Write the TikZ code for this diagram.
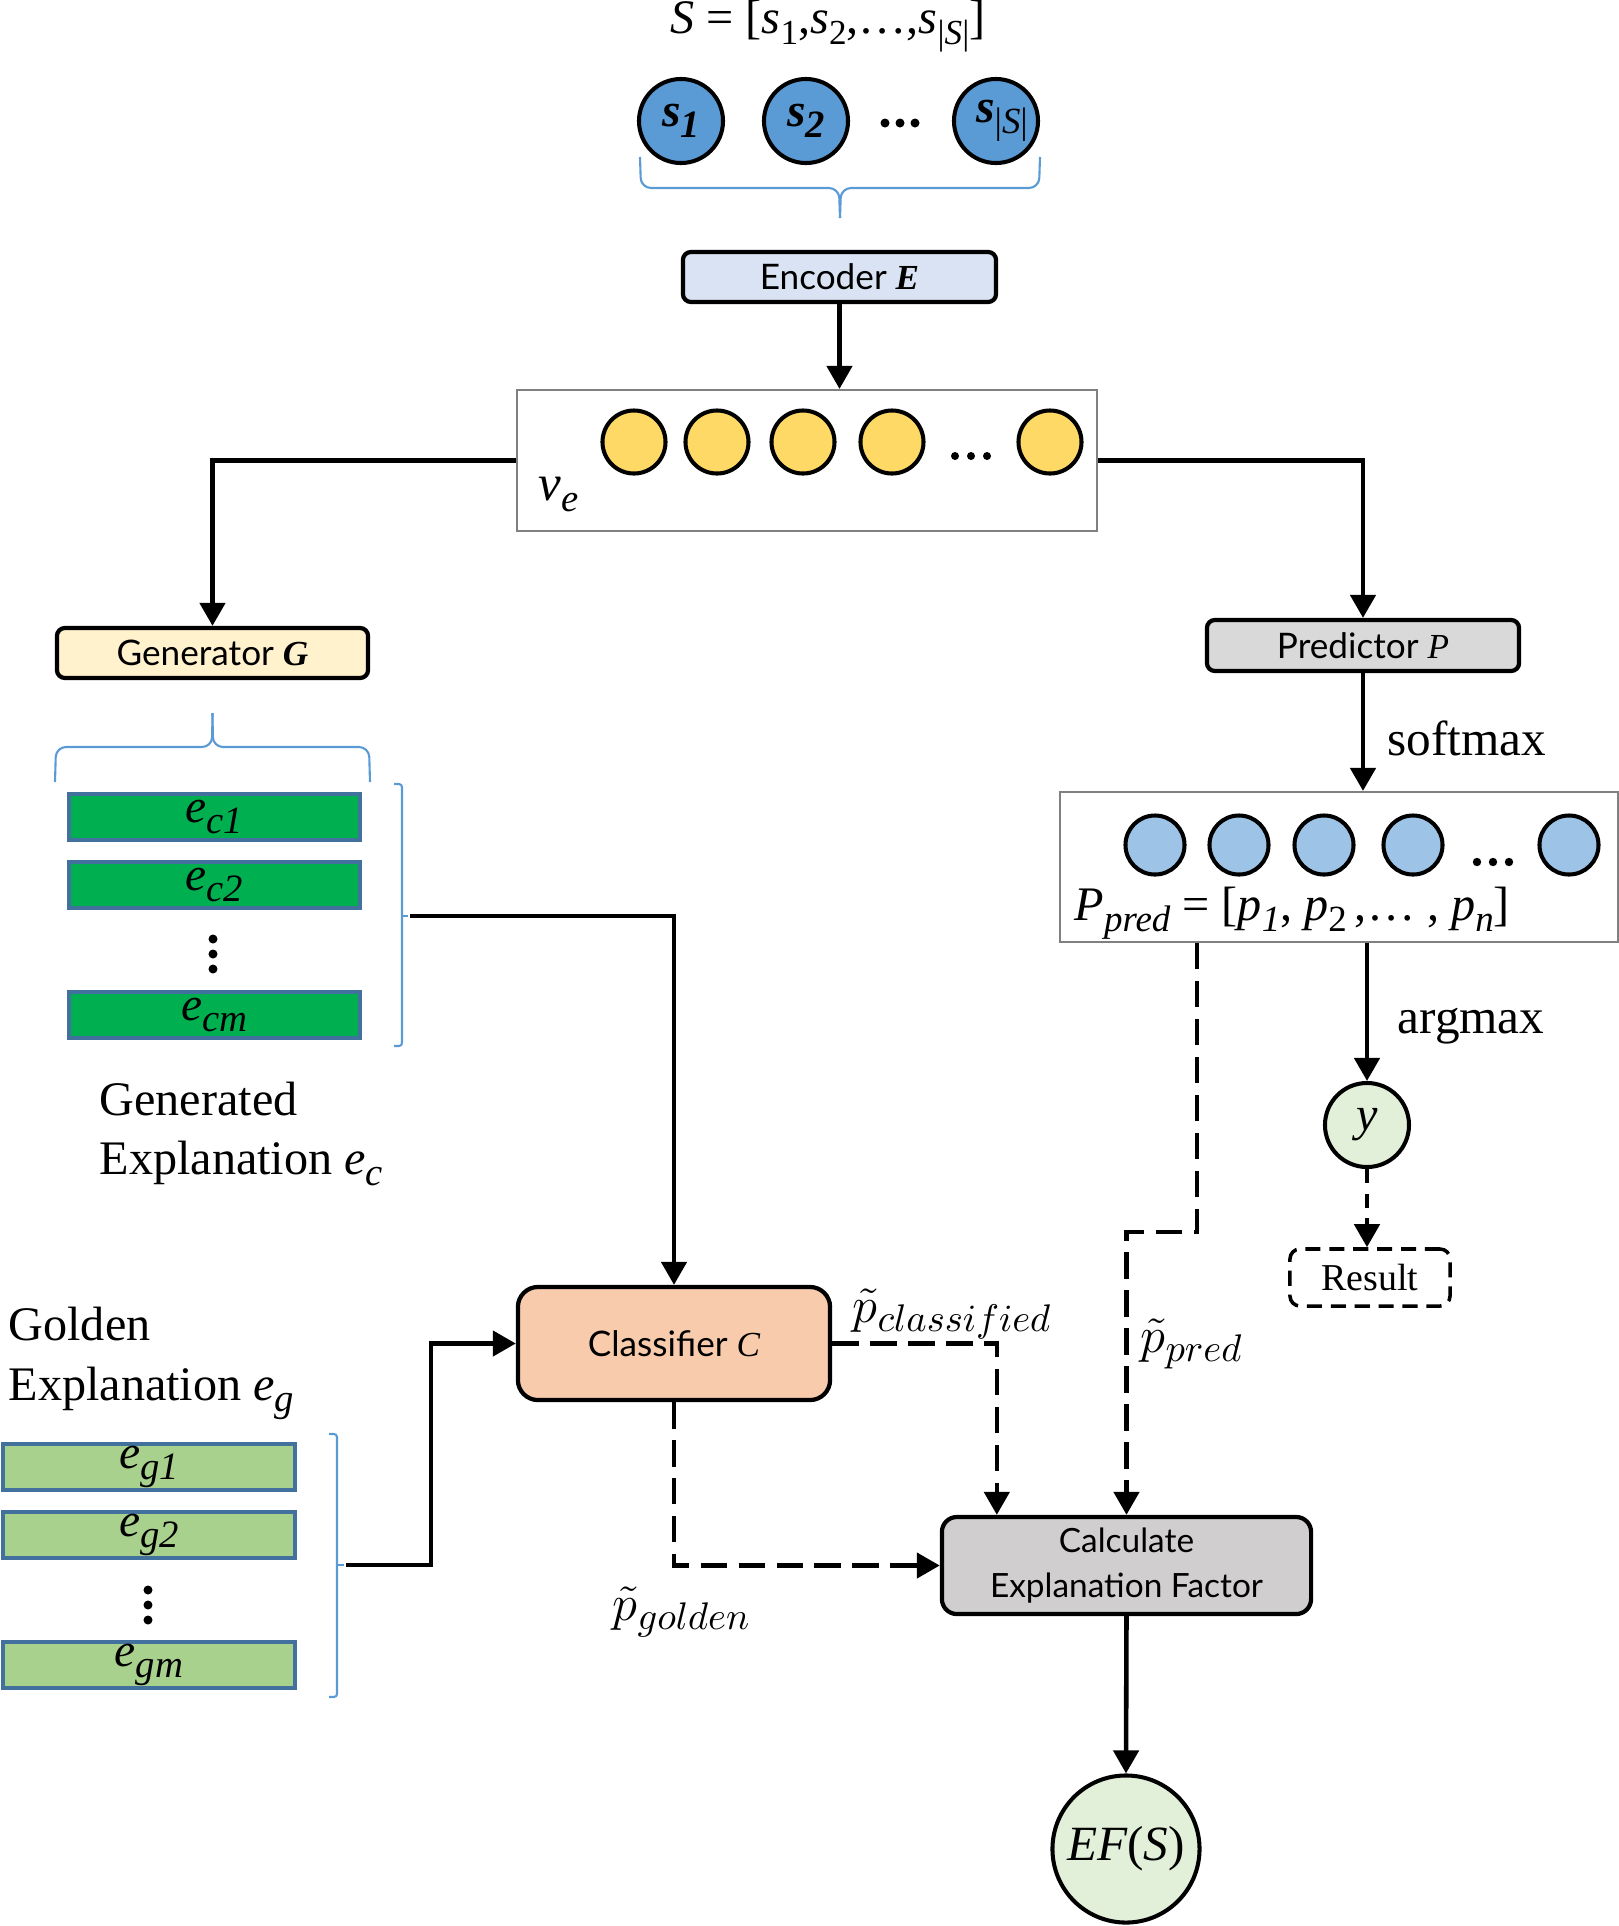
\documentclass[tikz,border=0pt]{standalone}
\usepackage{fontspec}
\setmainfont{Liberation Serif}
\newfontfamily\labfont{Lato}
\usetikzlibrary{arrows.meta,calc}
\definecolor{sblue}{HTML}{5B9BD5}
\definecolor{brcol}{HTML}{5B9BD5}
\definecolor{encf}{HTML}{DAE3F3}
\definecolor{yel}{HTML}{FFD966}
\definecolor{genf}{HTML}{FFF2CC}
\definecolor{ecg}{HTML}{00B050}
\definecolor{egg}{HTML}{A9D18E}
\definecolor{bord}{HTML}{41719C}
\definecolor{clsf}{HTML}{F8CBAD}
\definecolor{predf}{HTML}{D9D9D9}
\definecolor{pblue}{HTML}{9DC3E6}
\definecolor{lgreen}{HTML}{E2F0D9}
\definecolor{calcf}{HTML}{D0CECE}
\definecolor{boxgray}{HTML}{808080}
\newcommand\fsz[2]{\fontsize{#1pt}{#2pt}\selectfont}
\newcommand\lsub[2]{\raisebox{-0.5ex}{\fsz{#1}{#1}#2}}
\newcommand\mi[1]{{\rmfamily\itshape #1}}
\newcommand\mbi[1]{{\rmfamily\itshape\bfseries #1}}
\tikzset{
  blk/.style={draw=black, line width=1.2pt, rounded corners=0.08cm, inner sep=0pt, font=\labfont\fsz{10}{12}},
  arr/.style={draw=black, line width=1.3pt, -{Triangle[length=0.23cm,width=0.25cm]}},
  darr/.style={arr, dash pattern=on 7.5pt off 3.3pt},
  brc/.style={draw=brcol, line width=0.6pt, rounded corners=0.1cm},
  scirc/.style={circle, draw=black, line width=1.15pt, fill=sblue, minimum size=0.84cm, inner sep=0pt, font=\fsz{13.5}{16}},
  ycirc/.style={circle, draw=black, line width=1.15pt, fill=yel, minimum size=0.63cm, inner sep=0pt},
  pcirc/.style={circle, draw=black, line width=1.15pt, fill=pblue, minimum size=0.59cm, inner sep=0pt},
  ebox/.style={rectangle, draw=bord, line width=1.1pt, minimum width=2.91cm, minimum height=0.46cm, inner sep=0pt, font=\fsz{13.5}{15}},
  outbox/.style={rectangle, draw=boxgray, line width=0.6pt, inner sep=0pt},
  lbl/.style={inner sep=0pt, font=\fsz{13.7}{16}},
}
\begin{document}
\begin{tikzpicture}[x=0.01cm,y=-0.01cm]
\useasboundingbox (0,0) rectangle (1619,1926);

% top formula and inputs
\node[font=\fsz{13.7}{16}, inner sep=0pt, anchor=base] (sform) at (828,33) {\mi{S} = [\mi{s}\lsub{10}{1},\mi{s}\lsub{10}{2},\textellipsis,\mi{s}\lsub{10}{|\mi{S}|}]};
\node[scirc] (s1) at (681,121) {\mbi{s}\lsub{11}{\mbi{1}}};
\node[scirc] (s2) at (806,121) {\mbi{s}\lsub{11}{\mbi{2}}};
\node[scirc] (sn) at (996,121) {\hspace{0.12cm}\mbi{s}\lsub{10.5}{|\mi{S}|}};
\foreach \x in {885,900,915} \fill (\x,123) circle[radius=0.045cm];
\draw[brc] (640,157) -- (641,188) -- (839,188) -- (840,218);
\draw[brc] (1040,157) -- (1039,188) -- (841,188) -- (840,218);

% encoder
\node[blk, fill=encf, minimum width=3.13cm, minimum height=0.50cm] (enc) at (839.5,277) {Encoder \mbi{E}};

% ve box
\node[outbox, minimum width=5.80cm, minimum height=1.41cm] (ve) at (807,460.5) {};
\node[ycirc] (y1) at (634,442) {};
\node[ycirc] (y2) at (717,442) {};
\node[ycirc] (y3) at (803,442) {};
\node[ycirc] (y4) at (892,442) {};
\node[ycirc] (y5) at (1050,442) {};
\foreach \x in {955,971,987} \fill (\x,456) circle[radius=0.04cm];
\node[font=\fsz{14.5}{16}, inner sep=0pt, anchor=base west] (velab) at (538,500) {\mi{v}\lsub{11}{\mi{e}}};

% generator
\node[blk, fill=genf, minimum width=3.11cm, minimum height=0.50cm] (gen) at (212.5,653) {Generator \mbi{G}};
\draw[brc] (55,782) -- (56,747) -- (212,747) -- (212.5,713);
\draw[brc] (370,782) -- (369,747) -- (213,747) -- (212.5,713);

\node[ebox, fill=ecg] (ec1) at (214.5,817) {\mi{e}\lsub{11}{\mi{c1}}};
\node[ebox, fill=ecg] (ec2) at (214.5,885) {\mi{e}\lsub{11}{\mi{c2}}};
\node[ebox, fill=ecg] (ecm) at (214.5,1015) {\mi{e}\lsub{11}{\mi{cm}}};
\foreach \y in {939,954,969} \fill (213,\y) circle[radius=0.045cm];
\draw[brc, rounded corners=0.03cm] (394,784) -- (402,784) -- (402,1046) -- (394,1046);
\draw[brc] (402,916) -- (408,916);
\coordinate (ecb) at (410,916);

\node[lbl, anchor=base west] (gen1) at (99,1115) {Generated};
\node[lbl, anchor=base west] (gen2) at (99,1174) {Explanation \mi{e}\lsub{11}{\mi{c}}};

% golden
\node[lbl, anchor=base west] (gold1) at (8,1340) {Golden};
\node[lbl, anchor=base west] (gold2) at (8,1400) {Explanation \mi{e}\lsub{11}{\mi{g}}};
\node[ebox, fill=egg] (eg1) at (149,1467) {\mi{e}\lsub{11}{\mi{g1}}};
\node[ebox, fill=egg] (eg2) at (149,1535) {\mi{e}\lsub{11}{\mi{g2}}};
\node[ebox, fill=egg] (egm) at (149,1665) {\mi{e}\lsub{11}{\mi{gm}}};
\foreach \y in {1590,1605,1620} \fill (148,\y) circle[radius=0.045cm];
\draw[brc, rounded corners=0.03cm] (329,1434) -- (337,1434) -- (337,1697) -- (329,1697);
\draw[brc] (337,1565) -- (344,1565);
\coordinate (egb) at (346,1565);
\coordinate (egbend) at (431,1565);

% classifier
\node[blk, fill=clsf, rounded corners=0.2cm, minimum width=3.12cm, minimum height=1.13cm] (cls) at (674,1343.5) {Classifier \mi{C}};

% predictor side
\node[blk, fill=predf, minimum width=3.12cm, minimum height=0.51cm] (pred) at (1363,645.5) {Predictor \mi{P}};
\node[outbox, minimum width=5.58cm, minimum height=1.50cm] (ppred) at (1339,867) {};
\node[pcirc] (p1) at (1155,845) {};
\node[pcirc] (p2) at (1239,845) {};
\node[pcirc] (p3) at (1324,845) {};
\node[pcirc] (p4) at (1413,845) {};
\node[pcirc] (p5) at (1569,845) {};
\foreach \x in {1477,1493,1509} \fill (\x,862) circle[radius=0.042cm];
\node[font=\fsz{13.7}{15}, inner sep=0pt, anchor=base west] (pplab) at (1074,920) {\mi{P}\lsub{10.5}{\mi{pred}} = [\mi{p}\lsub{10.5}{\mi{1}}, \mi{p}\lsub{10.5}{2}\,,\textellipsis\ , \mi{p}\lsub{10.5}{\mi{n}}]};
\node[font=\fsz{14}{16}, inner sep=0pt, anchor=base west] (smx) at (1387,755) {softmax};
\node[font=\fsz{14}{16}, inner sep=0pt, anchor=base west] (amx) at (1397,1033) {argmax};

\node[circle, draw=black, line width=1.15pt, fill=lgreen, minimum size=0.84cm, inner sep=0pt, font=\fsz{13.7}{16}] (yn) at (1367,1125) {\raisebox{-0.4ex}{\mi{y}}};
\node[draw=black, line width=1pt, dash pattern=on 4.3pt off 2.5pt, rounded corners=0.1cm, minimum width=1.60cm, minimum height=0.57cm, inner sep=0pt, font=\fsz{10.8}{13}] (res) at (1370,1277.5) {Result};

% calculate and EF
\node[blk, fill=calcf, rounded corners=0.15cm, minimum width=3.69cm, minimum height=0.97cm, align=center, font=\labfont\fsz{9.5}{13}] (calc) at (1126.5,1565.5) {Calculate\\Explanation Factor};
\node[circle, draw=black, line width=1.15pt, fill=lgreen, minimum size=1.47cm, inner sep=0pt, font=\fsz{14}{16}] (ef) at (1126,1849) {\mi{EF}(\mi{S})};
\coordinate (pbend) at (1197,1232);

% labels on dashed connectors
\node[inner sep=0pt, anchor=base west, font=\fsz{15}{17}] (lcls) at (852,1322) {$\tilde{p}_{classified}$};
\node[inner sep=0pt, anchor=base west, font=\fsz{15}{17}] (lprd) at (1140,1352) {$\tilde{p}_{pred}$};
\node[inner sep=0pt, anchor=base west, font=\fsz{15}{17}] (lgld) at (612,1620) {$\tilde{p}_{golden}$};

% connectors
\draw[arr] (enc.south) -- (enc.south |- ve.north);
\draw[arr] (ve.west) -| (gen.north);
\draw[arr] (ve.east) -| (pred.north);
\draw[arr] (pred.south) -- (pred.south |- ppred.north);
\draw[arr] (ppred.south -| yn) -- (yn.north);
\draw[arr, dash pattern=on 4pt off 3pt] (yn.south) -- (yn.south |- res.north);
\draw[arr] (ecb) -| (cls.north);
\draw[arr] (egb) -- (egbend) |- (cls.west);
\draw[darr] (cls.south) |- (calc.west);
\draw[darr] (cls.east) -| ([xshift=0.57cm]calc.north west);
\draw[darr] (ppred.south -| pbend) -- (pbend) -| (calc.north);
\draw[arr] (calc.south) -- (ef.north);
\end{tikzpicture}
\end{document}
